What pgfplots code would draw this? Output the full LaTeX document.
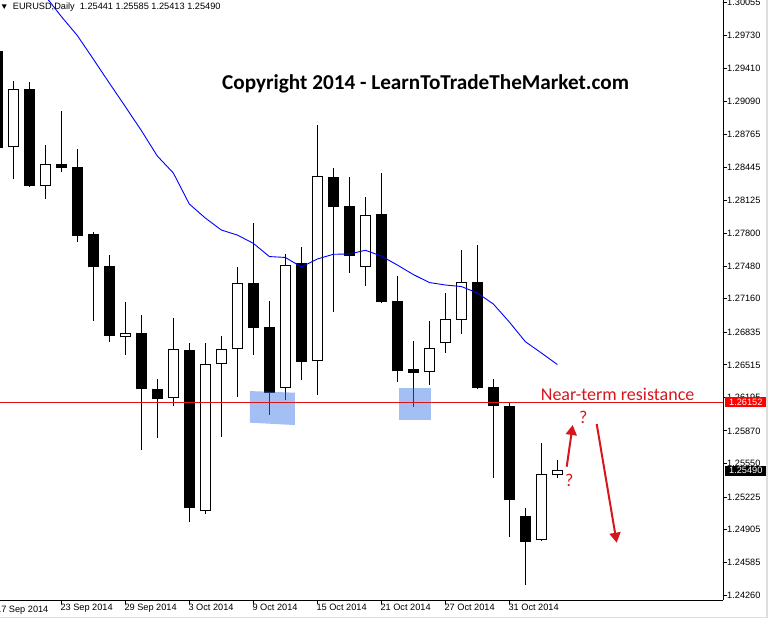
\documentclass[border=0pt]{standalone}
\usepackage{fontspec}
\setmainfont{Liberation Sans}
\newfontfamily\carlito{Carlito}
\usepackage{pgfplots}
\usepackage{pgfplotstable}
\pgfplotsset{compat=1.18}
\usetikzlibrary{arrows.meta}
\definecolor{annred}{RGB}{214,22,30}
\definecolor{linered}{RGB}{222,20,20}
\definecolor{hlblue}{RGB}{65,121,229}
\definecolor{mablue}{RGB}{0,0,255}
\definecolor{framegray}{RGB}{222,222,222}

% bearish (black) candles: index, open, high, low, close
\pgfplotstableread{
i O H L C
0 1.29581 1.29639 1.28565 1.28633
2 1.29209 1.29278 1.28255 1.28265
4 1.28477 1.28995 1.28402 1.28441
5 1.28448 1.28623 1.27718 1.27776
6 1.27793 1.27810 1.26943 1.27474
7 1.27480 1.27588 1.26741 1.26800
9 1.26826 1.27002 1.25686 1.26282
10 1.26279 1.26377 1.25803 1.26181
12 1.26660 1.26725 1.24983 1.25114
16 1.27314 1.27900 1.26614 1.26878
17 1.26885 1.27139 1.26028 1.26243
19 1.27507 1.27666 1.26370 1.26546
21 1.28350 1.28435 1.27034 1.28060
22 1.28067 1.28350 1.27415 1.27581
24 1.27988 1.28389 1.27122 1.27132
25 1.27139 1.27383 1.26350 1.26458
26 1.26474 1.26748 1.26106 1.26438
30 1.27321 1.27686 1.26282 1.26292
31 1.26299 1.26377 1.25413 1.26110
32 1.26113 1.26149 1.24830 1.25192
33 1.25038 1.25117 1.24362 1.24787
}\bears
% bullish (white) candles
\pgfplotstableread{
i O H L C
1 1.28640 1.29288 1.28327 1.29206
3 1.28259 1.28662 1.28138 1.28474
8 1.26784 1.27129 1.26614 1.26823
11 1.26188 1.26973 1.26116 1.26667
13 1.25084 1.26725 1.25061 1.26520
14 1.26520 1.26797 1.25813 1.26667
15 1.26667 1.27471 1.26204 1.27311
18 1.26286 1.27598 1.26174 1.27487
20 1.26550 1.28858 1.26220 1.28357
23 1.27468 1.28154 1.27288 1.27976
27 1.26442 1.26943 1.26321 1.26677
28 1.26725 1.27217 1.26634 1.26960
29 1.26956 1.27637 1.26819 1.27321
34 1.24801 1.25752 1.24794 1.25446
35 1.25441 1.25585 1.25413 1.25490
}\bulls
% moving average
\pgfplotstableread{
i MA
3 1.30118
4 1.29918
5 1.29732
6 1.29502
7 1.29268
8 1.29038
9 1.28804
10 1.28555
11 1.28389
12 1.28086
13 1.27949
14 1.27832
15 1.27783
16 1.27702
17 1.27573
18 1.27564
19 1.27471
20 1.27549
21 1.27595
22 1.27598
23 1.27634
24 1.27578
25 1.27490
26 1.27397
27 1.27319
28 1.27295
29 1.27280
30 1.27217
31 1.27109
32 1.26933
33 1.26741
34 1.26631
35 1.26518
}\ma

\begin{document}
\begin{tikzpicture}[x=1pt,y=1pt]
\useasboundingbox (0,-19) rectangle (768,600);
\begin{axis}[at={(0,0)}, anchor=south west, scale only axis,
  width=723pt, height=600pt,
  xmin=0.169, xmax=45.35, ymin=1.24218, ymax=1.30079,
  axis x line*=bottom, axis y line*=right,
  axis line style={black, line width=1pt},
  tick align=outside, major tick length=4pt,
  tick style={black, line width=0.8pt},
  xtick={4,8,12,16,20,24,28,32},
  xticklabels={23 Sep 2014,29 Sep 2014,3 Oct 2014,9 Oct 2014,15 Oct 2014,21 Oct 2014,27 Oct 2014,31 Oct 2014},
  ytick={1.30055,1.29730,1.29410,1.29090,1.28765,1.28445,1.28125,1.27800,1.27480,1.27160,1.26835,1.26515,1.26195,1.25870,1.25550,1.25225,1.24905,1.24585,1.24260},
  yticklabels={1.30055,1.29730,1.29410,1.29090,1.28765,1.28445,1.28125,1.27800,1.27480,1.27160,1.26835,1.26515,1.26195,1.25870,1.25550,1.25225,1.24905,1.24585,1.24260},
  ticklabel style={font=\fontsize{9.2}{10}\selectfont, inner sep=0pt},
  xticklabel style={anchor=north west, xshift=-1pt},
  yticklabel style={anchor=west},
  wick/.style={draw=none, mark=none, error bars/.cd, y dir=plus, y explicit, error mark=none,
     error bar style={black, line width=1pt}},
  body/.style={draw=none, mark=none, error bars/.cd, y dir=plus, y explicit, error mark=none,
     error bar style={black, line width=11pt}},
  inner/.style={draw=none, mark=none, error bars/.cd, y dir=plus, y explicit, error mark=none,
     error bar style={white, line width=9pt, shorten <=1pt, shorten >=1pt}},
]
% wicks
\addplot[wick] table[x=i, y=L, y error plus expr=\thisrow{H}-\thisrow{L}] {\bears};
\addplot[wick] table[x=i, y=L, y error plus expr=\thisrow{H}-\thisrow{L}] {\bulls};
% bodies
\addplot[body] table[x=i, y=C, y error plus expr=\thisrow{O}-\thisrow{C}] {\bears};
\addplot[body] table[x=i, y=O, y error plus expr=\thisrow{C}-\thisrow{O}] {\bulls};
\addplot[inner] table[x=i, y=O, y error plus expr=\thisrow{C}-\thisrow{O}] {\bulls};
% moving average
\addplot[mablue, line width=0.9pt] table[x=i, y=MA] {\ma};
% highlight zones
\fill[hlblue, opacity=0.48] (axis cs:15.79,1.26259) -- (axis cs:18.59,1.26243) -- (axis cs:18.59,1.25927) -- (axis cs:15.79,1.25950) -- cycle;
\fill[hlblue, opacity=0.48] (axis cs:25.11,1.26292) rectangle (axis cs:27.11,1.25976);
% resistance line
\addplot[linered, line width=1pt] coordinates {(0.169,1.26152) (45.35,1.26152)};
\end{axis}
% header
\fill (1.7,595.7) -- (6.7,595.7) -- (4.2,591) -- cycle;
\node[anchor=base west, inner sep=0] at (12.7,590) {\fontsize{9.2}{10}\selectfont EURUSD,Daily\ \ 1.25441 1.25585 1.25413 1.25490};
% first date label (its tick lies left of the view)
\node[anchor=north west, inner sep=0] at (-4,-5.5) {\fontsize{9.2}{10}\selectfont 17 Sep 2014};
% title
\node[anchor=base west, inner sep=0] at (222,510) {\carlito\bfseries\fontsize{21.2}{25}\selectfont Copyright 2014 - LearnToTradeTheMarket.com};
% annotations
\node[anchor=base west, inner sep=0, text=annred] at (540.7,200) {\carlito\fontsize{18}{20}\selectfont Near-term resistance};
\node[anchor=base west, inner sep=0, text=annred] at (579,176.7) {\carlito\fontsize{18}{20}\selectfont ?};
\node[anchor=base west, inner sep=0, text=annred] at (565,114) {\carlito\fontsize{18}{20}\selectfont ?};
\draw[annred, line width=2pt, -{Triangle[width=11pt,length=10pt]}] (566.7,133.3) -- (572.7,175);
\draw[annred, line width=2pt, -{Triangle[width=11pt,length=10pt]}] (596.7,176) -- (616.7,57.3);
% price labels
\fill[red] (725,192.7) rectangle (766,202.7);
\node[anchor=west, inner sep=0, text=white] at (729,197.7) {\fontsize{9.2}{10}\selectfont 1.26152};
\fill[black] (725,124.3) rectangle (766,134.3);
\node[anchor=west, inner sep=0, text=white] at (729,129.3) {\fontsize{9.2}{10}\selectfont 1.25490};
% window frame
\draw[framegray, line width=1.5pt] (766.8,600) -- (766.8,-17.7) -- (0,-17.7);
\end{tikzpicture}
\end{document}
